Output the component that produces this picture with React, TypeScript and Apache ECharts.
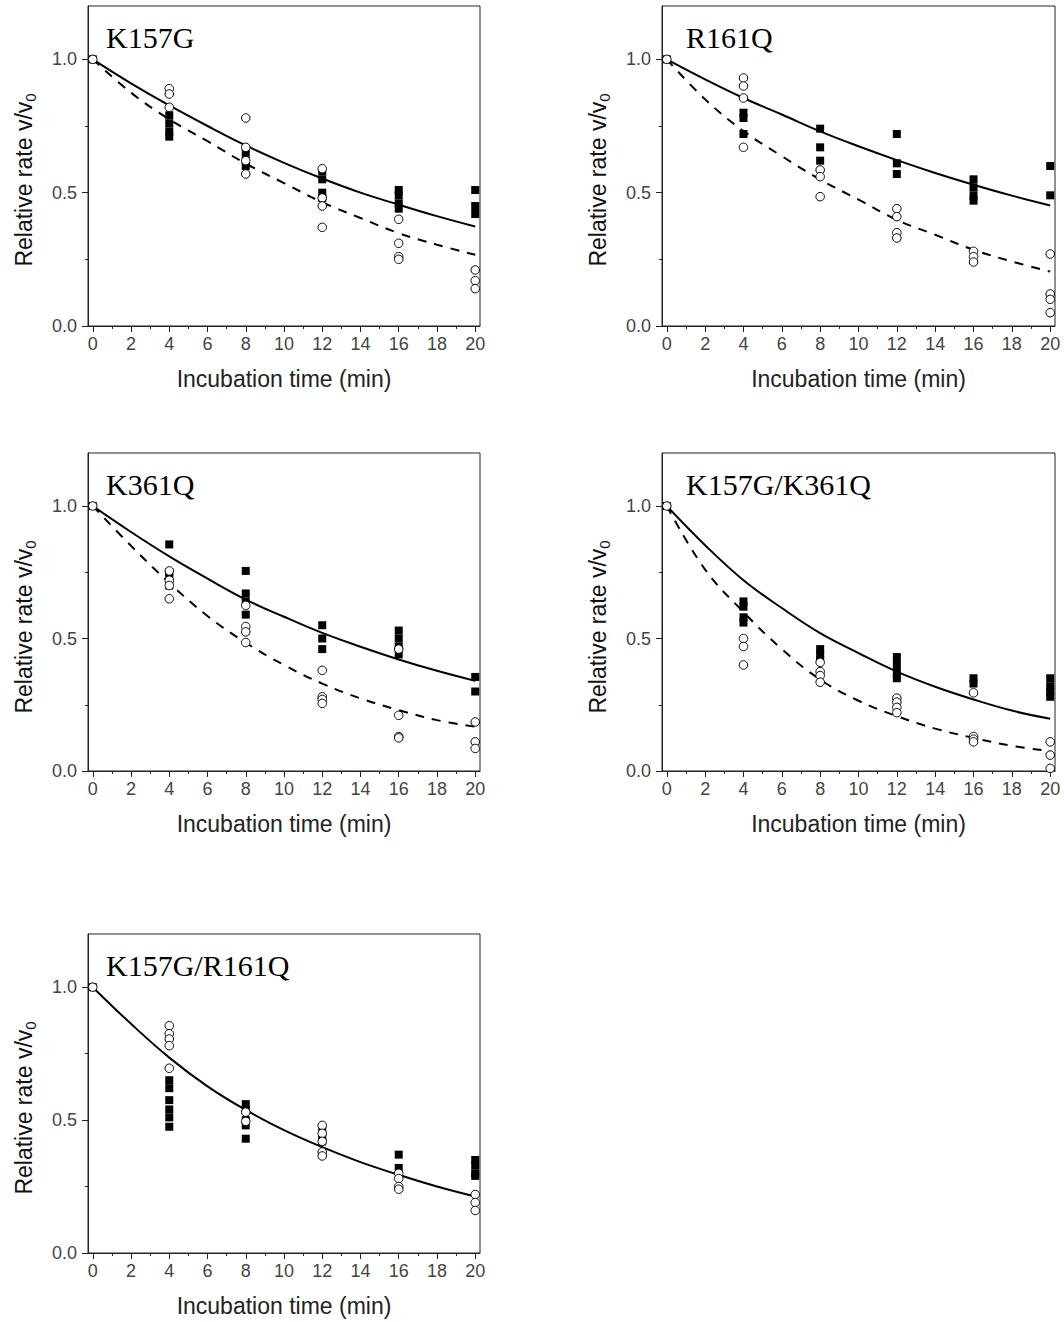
import React, { useEffect, useRef } from "react";
import * as echarts from "echarts";

// ---------- data ----------
const panelNames = ["K157G", "R161Q", "K361Q", "K157G/K361Q", "K157G/R161Q"];
const xTickValues = [0, 2, 4, 6, 8, 10, 12, 14, 16, 18, 20];
const xMinorTickValues = [1, 3, 5, 7, 9, 11, 13, 15, 17, 19];
const yTickValues = [0, 0.5, 1.0];
const yMinorTickValues = [0.25, 0.75];
const fitTimes = [0, 2, 4, 6, 8, 10, 12, 14, 16, 18, 20];

// K157G
const k157gSquares = [
  [0, 1.0], [4, 0.79], [4, 0.76], [4, 0.73], [4, 0.71],
  [8, 0.65], [8, 0.62], [8, 0.6],
  [12, 0.58], [12, 0.55], [12, 0.5], [12, 0.48],
  [16, 0.51], [16, 0.49], [16, 0.46], [16, 0.44],
  [20, 0.51], [20, 0.45], [20, 0.42],
];
const k157gCircles = [
  [0, 1.0], [4, 0.89], [4, 0.87], [4, 0.82],
  [8, 0.78], [8, 0.67], [8, 0.62], [8, 0.57],
  [12, 0.59], [12, 0.48], [12, 0.45], [12, 0.37],
  [16, 0.4], [16, 0.31], [16, 0.26], [16, 0.25],
  [20, 0.21], [20, 0.17], [20, 0.14],
];
const k157gSolid = [1, 0.91, 0.827, 0.75, 0.677, 0.612, 0.553, 0.5, 0.455, 0.412, 0.373];
const k157gDashed = [1, 0.875, 0.775, 0.693, 0.609, 0.536, 0.464, 0.405, 0.348, 0.305, 0.267];

// R161Q
const r161qSquares = [
  [0, 1.0], [4, 0.8], [4, 0.78], [4, 0.72],
  [8, 0.74], [8, 0.67], [8, 0.62],
  [12, 0.72], [12, 0.61], [12, 0.57],
  [16, 0.55], [16, 0.52], [16, 0.49], [16, 0.47],
  [20, 0.6], [20, 0.49],
];
const r161qCircles = [
  [0, 1.0], [4, 0.93], [4, 0.9], [4, 0.855], [4, 0.67],
  [8, 0.585], [8, 0.56], [8, 0.485],
  [12, 0.44], [12, 0.41], [12, 0.35], [12, 0.33],
  [16, 0.28], [16, 0.26], [16, 0.24],
  [20, 0.27], [20, 0.12], [20, 0.1], [20, 0.05],
];
const r161qSolid = [1, 0.925, 0.855, 0.793, 0.73, 0.674, 0.622, 0.574, 0.53, 0.489, 0.452];
const r161qDashed = [1, 0.85, 0.731, 0.637, 0.549, 0.474, 0.398, 0.342, 0.286, 0.242, 0.204];

// K361Q
const k361qSquares = [
  [0, 1.0], [4, 0.855], [4, 0.75], [4, 0.73], [4, 0.7],
  [8, 0.755], [8, 0.67], [8, 0.64], [8, 0.59],
  [12, 0.55], [12, 0.5], [12, 0.46],
  [16, 0.53], [16, 0.5], [16, 0.47], [16, 0.44],
  [20, 0.355], [20, 0.3],
];
const k361qCircles = [
  [0, 1.0], [4, 0.755], [4, 0.72], [4, 0.7], [4, 0.65],
  [8, 0.625], [8, 0.545], [8, 0.525], [8, 0.485],
  [12, 0.38], [12, 0.28], [12, 0.27], [12, 0.255],
  [16, 0.46], [16, 0.21], [16, 0.13], [16, 0.125],
  [20, 0.185], [20, 0.11], [20, 0.085],
];
const k361qSolid = [1, 0.902, 0.81, 0.726, 0.647, 0.582, 0.521, 0.469, 0.421, 0.378, 0.34];
const k361qDashed = [1, 0.85, 0.71, 0.585, 0.484, 0.4, 0.33, 0.274, 0.23, 0.192, 0.167];

// K157G/K361Q
const k157gK361qSquares = [
  [0, 1.0], [4, 0.64], [4, 0.62], [4, 0.58], [4, 0.56],
  [8, 0.46], [8, 0.44], [8, 0.42],
  [12, 0.43], [12, 0.4], [12, 0.37], [12, 0.35],
  [16, 0.35], [16, 0.33],
  [20, 0.35], [20, 0.32], [20, 0.3], [20, 0.28],
];
const k157gK361qCircles = [
  [0, 1.0], [4, 0.5], [4, 0.47], [4, 0.4],
  [8, 0.41], [8, 0.375], [8, 0.36], [8, 0.335],
  [12, 0.275], [12, 0.26], [12, 0.24], [12, 0.22],
  [16, 0.295], [16, 0.13], [16, 0.12], [16, 0.11],
  [20, 0.11], [20, 0.06], [20, 0.01],
];
const k157gK361qSolid = [1, 0.852, 0.72, 0.615, 0.52, 0.445, 0.375, 0.318, 0.27, 0.228, 0.197];
const k157gK361qDashed = [1, 0.76, 0.6, 0.46, 0.345, 0.265, 0.207, 0.16, 0.125, 0.095, 0.075];

// K157G/R161Q
const k157gR161qSquares = [
  [0, 1.0], [4, 0.65], [4, 0.62], [4, 0.575], [4, 0.54], [4, 0.51], [4, 0.475],
  [8, 0.56], [8, 0.54], [8, 0.5], [8, 0.48], [8, 0.43],
  [12, 0.47], [12, 0.44], [12, 0.42],
  [16, 0.37], [16, 0.32],
  [20, 0.35], [20, 0.33], [20, 0.3], [20, 0.29],
];
const k157gR161qCircles = [
  [0, 1.0], [4, 0.855], [4, 0.825], [4, 0.805], [4, 0.78], [4, 0.695],
  [8, 0.53], [8, 0.495],
  [12, 0.48], [12, 0.45], [12, 0.42], [12, 0.38], [12, 0.365],
  [16, 0.3], [16, 0.28], [16, 0.25], [16, 0.24],
  [20, 0.22], [20, 0.19], [20, 0.16],
];
const k157gR161qSolid = [1, 0.862, 0.735, 0.627, 0.538, 0.462, 0.398, 0.342, 0.294, 0.25, 0.2125];

const panelSquares = [k157gSquares, r161qSquares, k361qSquares, k157gK361qSquares, k157gR161qSquares];
const panelCircles = [k157gCircles, r161qCircles, k361qCircles, k157gK361qCircles, k157gR161qCircles];
const panelSolid = [k157gSolid, r161qSolid, k361qSolid, k157gK361qSolid, k157gR161qSolid];
const panelDashed = [k157gDashed, r161qDashed, k361qDashed, k157gK361qDashed, null];

const xTitle = "Incubation time (min)";

// ---------- layout ----------
const layout = [
  { left: 88, top: 6, width: 392, height: 320 },
  { left: 662, top: 6, width: 393, height: 320 },
  { left: 88, top: 453, width: 392, height: 318 },
  { left: 662, top: 453, width: 393, height: 318 },
  { left: 88, top: 934, width: 392, height: 319 },
];

const SANS = "'Liberation Sans', Arial, Helvetica, sans-serif";
const SERIF = "'Liberation Serif', 'Times New Roman', serif";

function buildOption() {
  const grid: any[] = [];
  const xAxis: any[] = [];
  const yAxis: any[] = [];
  const series: any[] = [];
  const title: any[] = [];
  const graphic: any[] = [];

  layout.forEach((g, i) => {
    grid.push({
      left: g.left,
      top: g.top,
      width: g.width,
      height: g.height,
      show: true,
      borderColor: "#222",
      borderWidth: 1,
      backgroundColor: "transparent",
    });
    xAxis.push({
      type: "value",
      gridIndex: i,
      min: -0.25,
      max: 20.25,
      position: "bottom",
      axisLine: { show: true, onZero: false, lineStyle: { color: "#222", width: 1 } },
      axisTick: { show: true, inside: false, length: 6, customValues: xTickValues, lineStyle: { color: "#222" } },
      axisLabel: { show: true, customValues: xTickValues, margin: 9, fontSize: 18, color: "#444", fontFamily: SANS },
      splitLine: { show: false },
      name: xTitle,
      nameLocation: "middle",
      nameGap: 41,
      nameTextStyle: { fontSize: 23, color: "#222", fontFamily: SANS },
    });
    xAxis.push({
      type: "value",
      gridIndex: i,
      min: -0.25,
      max: 20.25,
      position: "bottom",
      axisLine: { show: false, onZero: false },
      axisTick: { show: true, inside: false, length: 3, customValues: xMinorTickValues, lineStyle: { color: "#222" } },
      axisLabel: { show: false },
      splitLine: { show: false },
    });
    yAxis.push({
      type: "value",
      gridIndex: i,
      min: 0,
      max: 1.2,
      position: "left",
      axisLine: { show: true, onZero: false, lineStyle: { color: "#222", width: 1 } },
      axisTick: { show: true, inside: false, length: 6, customValues: yTickValues, lineStyle: { color: "#222" } },
      axisLabel: {
        show: true,
        customValues: yTickValues,
        margin: 11,
        fontSize: 18,
        color: "#444",
        fontFamily: SANS,
        formatter: (v: number) => v.toFixed(1),
      },
      splitLine: { show: false },
    });
    yAxis.push({
      type: "value",
      gridIndex: i,
      min: 0,
      max: 1.2,
      position: "left",
      axisLine: { show: false, onZero: false },
      axisTick: { show: true, inside: false, length: 3, customValues: yMinorTickValues, lineStyle: { color: "#222" } },
      axisLabel: { show: false },
      splitLine: { show: false },
    });

    const xi = 2 * i;
    const yi = 2 * i;

    series.push({
      type: "line",
      xAxisIndex: xi,
      yAxisIndex: yi,
      data: fitTimes.map((t, k) => [t, panelSolid[i][k]]),
      smooth: 0.4,
      showSymbol: false,
      symbol: "none",
      lineStyle: { color: "#000", width: 2, type: "solid" },
      z: 2,
    });
    const dashed = panelDashed[i];
    if (dashed) {
      series.push({
        type: "line",
        xAxisIndex: xi,
        yAxisIndex: yi,
        data: fitTimes.map((t, k) => [t, dashed[k]]),
        smooth: 0.4,
        showSymbol: false,
        symbol: "none",
        lineStyle: { color: "#000", width: 2, type: [9, 8] },
        z: 2,
      });
    }
    series.push({
      type: "scatter",
      xAxisIndex: xi,
      yAxisIndex: yi,
      data: panelSquares[i],
      symbol: "rect",
      symbolSize: 8,
      itemStyle: { color: "#000", opacity: 1 },
      z: 3,
    });
    series.push({
      type: "scatter",
      xAxisIndex: xi,
      yAxisIndex: yi,
      data: panelCircles[i],
      symbol: "circle",
      symbolSize: 8.5,
      itemStyle: { color: "#fff", borderColor: "#000", borderWidth: 1, opacity: 1 },
      z: 4,
    });

    title.push({
      text: panelNames[i],
      left: g.left + (g.left > 300 ? 24 : 18),
      top: g.top + 16,
      padding: 0,
      textStyle: { fontFamily: SERIF, fontSize: 30, fontWeight: "normal", color: "#000", lineHeight: 30 },
    });

    graphic.push({
      type: "text",
      x: g.left - 64,
      y: g.top + 174,
      rotation: Math.PI / 2,
      style: {
        text: "Relative rate v/v{sub|0}",
        fontSize: 23,
        fontFamily: SANS,
        fill: "#111",
        textAlign: "center",
        textVerticalAlign: "middle",
        align: "center",
        verticalAlign: "middle",
        rich: {
          sub: { fontSize: 15, fontFamily: SANS, fill: "#111", padding: [12, 0, 0, 0] },
        },
      },
    });
  });

  return {
    animation: false,
    backgroundColor: "#fff",
    title,
    grid,
    xAxis,
    yAxis,
    series,
    graphic,
  };
}

export default function App() {
  const ref = useRef<HTMLDivElement>(null);
  useEffect(() => {
    if (!ref.current) return;
    const chart = echarts.init(ref.current, undefined, { renderer: "svg" });
    chart.setOption(buildOption() as any);
    return () => chart.dispose();
  }, []);
  return (
    <div
      ref={ref}
      style={{ position: "absolute", left: 0, top: 0, width: 1064, height: 1322, background: "#fff" }}
    />
  );
}
